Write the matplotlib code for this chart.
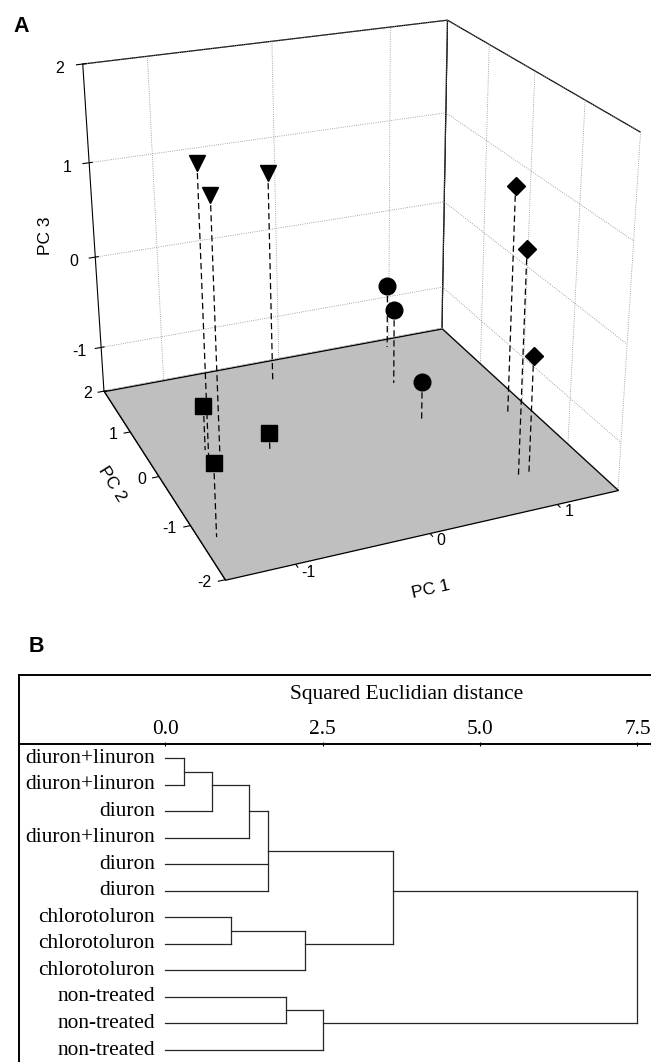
import numpy as np
import matplotlib
matplotlib.use("Agg")
import matplotlib.pyplot as plt
from mpl_toolkits.mplot3d.art3d import Poly3DCollection

# ---- panel A: PCA scores (PC1, PC2, PC3) ----
pc1 = [-1.07, -1.01, -0.20, -1.06, -0.62, -1.38, 0.92, 0.70, 0.63, 1.31, 0.94, 1.01]
pc2 = [0.18, 0.06, 1.47, 0.33, 0.04, -1.29, 1.80, 0.95, 0.02, -0.16, -1.36, -1.40]
pc3 = [1.50, 1.22, 0.82, -1.02, -1.29, -0.75, -0.78, -0.67, -1.06, 0.94, 0.81, -0.25]
point_marker = ["v", "v", "v", "s", "s", "s", "o", "o", "o", "D", "D", "D"]
marker_size = {"v": 12, "s": 11, "o": 12, "D": 9.5}
pc1_ticks = [-1, 0, 1]
pc2_ticks = [-2, -1, 0, 1, 2]
pc3_ticks = [-1, 0, 1, 2]

# ---- panel B: dendrogram ----
leaf_labels = ["diuron+linuron", "diuron+linuron", "diuron", "diuron+linuron", "diuron", "diuron",
               "chlorotoluron", "chlorotoluron", "chlorotoluron",
               "non-treated", "non-treated", "non-treated"]
# leaves are nodes 0..11, each merge creates the next node id (12, 13, ...)
merge_children = [(0, 1), (12, 2), (13, 3), (14, 4, 5), (6, 7), (16, 8), (15, 17),
                  (9, 10), (19, 11), (18, 20)]
merge_height = [0.29, 0.74, 1.33, 1.63, 1.04, 2.21, 3.62, 1.92, 2.50, 7.50]
dist_ticks = [0.0, 2.5, 5.0, 7.5]

plt.rcParams["font.family"] = ["Liberation Sans", "DejaVu Sans"]
plt.rcParams["axes.unicode_minus"] = False
plt.rcParams["grid.color"] = "#8a8a8a"
plt.rcParams["grid.linestyle"] = ":"
plt.rcParams["grid.linewidth"] = 0.6

W, H = 651, 1062
fig = plt.figure(figsize=(W / 100, H / 100), dpi=100)

# ================= A =================
xlo, xhi, ylo, yhi, zlo, zhi = -1.5, 1.5, -2.0, 2.0, -1.5, 2.0
ax = fig.add_axes([0.00723, 0.42003, 1.02268, 0.62690], projection="3d", computed_zorder=False)
ax.set_facecolor("none")
ax.set_xlim(xlo, xhi)
ax.set_ylim(ylo, yhi)
ax.set_zlim(zlo, zhi)
ax.view_init(elev=23.575, azim=-112.463, roll=0.287)
ax.set_proj_type("persp", focal_length=0.5071)
ax.set_box_aspect((1.0, 0.991, 0.9102))

ax.set_xticks(pc1_ticks)
ax.set_yticks(pc2_ticks)
ax.set_zticks(pc3_ticks)
ax.tick_params(axis="x", labelbottom=False)
ax.tick_params(axis="y", labelleft=False)
ax.tick_params(axis="z", labelsize=11.5)

for a in (ax.xaxis, ax.yaxis, ax.zaxis):
    a.set_pane_color((1, 1, 1, 1))
for a in (ax.xaxis, ax.yaxis):
    a.pane.set_edgecolor("k")
    a.pane.set_linewidth(0.9)

# own tick labels for the floor axes (placed beside the ticks like the original)
for v in pc1_ticks:
    ax.text(v, ylo - 0.15, zlo, "%g" % v, ha="left", va="center", fontsize=11.5)
for v in pc2_ticks:
    ax.text(xlo - 0.10, v, zlo, "%g" % v, ha="right", va="center", fontsize=11.5)

floor = Poly3DCollection([[(xlo, ylo, zlo), (xhi, ylo, zlo), (xhi, yhi, zlo), (xlo, yhi, zlo)]],
                         facecolor="#bfbfbf", edgecolor="k", linewidth=0.9, zorder=1)
ax.add_collection3d(floor)

for x, y, z in zip(pc1, pc2, pc3):
    ax.plot([x, x], [y, y], [z, zlo], color="k", lw=0.9, ls=(0, (5, 3)), zorder=2)
for mk in ["v", "s", "o", "D"]:
    sel = [i for i, m in enumerate(point_marker) if m == mk]
    ax.plot([pc1[i] for i in sel], [pc2[i] for i in sel], [pc3[i] for i in sel],
            linestyle="none", marker=mk, ms=marker_size[mk], color="k", zorder=3)

# axis titles
fig.text(431 / W, 1 - 589 / H, "PC 1", fontsize=12.5, rotation=12.5, ha="center", va="center")
fig.text(112 / W, 1 - 484 / H, "PC 2", fontsize=12.5, rotation=-58, ha="center", va="center")
fig.text(45 / W, 1 - 236 / H, "PC 3", fontsize=12.5, rotation=90, ha="center", va="center")
fig.text(20.8 / W, 1 - 26.7 / H, "A", fontsize=15.5, fontweight="bold", ha="center", va="center")

# ================= B =================
serif = "Liberation Serif"
px_left, px_right, px_top, px_bottom = 19, 794, 675, 1062
bx = fig.add_axes([px_left / W, 1 - px_bottom / H, (px_right - px_left) / W, (px_bottom - px_top) / H])
bx.set_xlim(-2.326, 9.987)
bx.set_ylim(11.452, -3.141)
bx.set_xticks([])
bx.set_yticks([])
for s in ("right", "bottom"):
    bx.spines[s].set_visible(False)
for s in ("left", "top"):
    bx.spines[s].set_linewidth(1.4)

header = bx.secondary_xaxis((px_bottom - 744.3) / (px_bottom - px_top))
header.spines["top"].set_linewidth(1.4)
header.set_xticks(dist_ticks)
header.set_xticklabels(["%.1f" % v for v in dist_ticks], fontsize=15.4, family=serif)
header.tick_params(length=2.5, width=0.8, direction="inout", pad=2.5)
header.set_xlabel("Squared Euclidian distance", fontsize=15.4, family=serif, labelpad=15)

node_y = list(range(len(leaf_labels)))
node_h = [0.0] * len(leaf_labels)
line_kw = dict(color="#262626", lw=0.9)
for kids, h in zip(merge_children, merge_height):
    ys = [node_y[k] for k in kids]
    for k in kids:
        bx.plot([node_h[k], h], [node_y[k], node_y[k]], **line_kw)
    bx.plot([h, h], [min(ys), max(ys)], **line_kw)
    node_y.append(np.floor(min(ys) + max(ys)) / 2)
    node_h.append(h)

for i, lab in enumerate(leaf_labels):
    bx.text(-0.165, i, lab, ha="right", va="center", fontsize=15.4, family=serif)

fig.text(36.5 / W, 1 - 646 / H, "B", fontsize=15.5, fontweight="bold", ha="center", va="center")

fig.savefig("out.png", dpi=100)
